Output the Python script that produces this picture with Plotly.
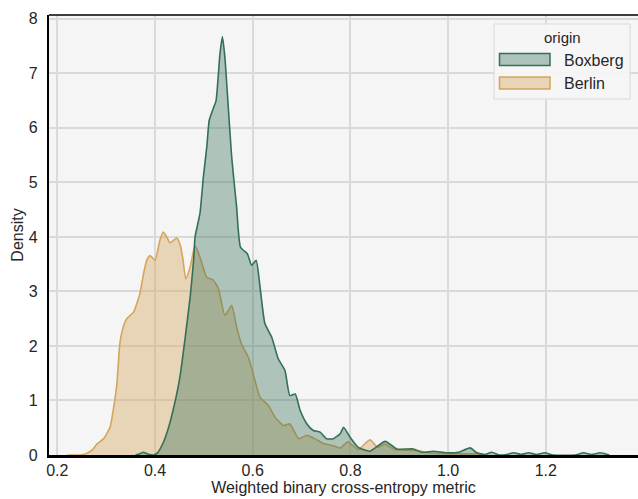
import plotly.graph_objects as go

# ---- data ----
berlin_x = [0.22, 0.246, 0.26, 0.272, 0.281, 0.295, 0.308, 0.315, 0.322, 0.328, 0.335, 0.342,
            0.356, 0.369, 0.376, 0.383, 0.39, 0.4, 0.41, 0.417, 0.424, 0.431, 0.444, 0.451,
            0.457, 0.463, 0.472, 0.482, 0.492, 0.506, 0.519, 0.53, 0.543, 0.557, 0.567,
            0.577, 0.591, 0.601, 0.615, 0.632, 0.646, 0.663, 0.676, 0.694, 0.711, 0.727,
            0.745, 0.765, 0.779, 0.795, 0.816, 0.84, 0.856, 0.87, 0.89, 0.911, 0.938,
            0.959, 0.98, 1.02, 1.06, 1.08]
berlin_y = [0.0, 0.0, 0.03, 0.1, 0.2, 0.3, 0.51, 0.85, 1.31, 2.04, 2.35, 2.5,
            2.62, 2.96, 3.3, 3.57, 3.66, 3.57, 3.94, 4.09, 4.0, 3.89, 3.98, 3.87,
            3.6, 3.23, 3.45, 3.84, 3.63, 3.26, 3.21, 3.05, 2.56, 2.74, 2.35,
            2.04, 1.79, 1.49, 1.06, 0.91, 0.69, 0.54, 0.57, 0.30, 0.36, 0.30,
            0.21, 0.17, 0.13, 0.24, 0.10, 0.28, 0.14, 0.20, 0.10, 0.09, 0.08,
            0.04, 0.03, 0.02, 0.02, 0.0]

boxberg_x = [0.36, 0.368, 0.376, 0.385, 0.397, 0.405, 0.417, 0.427, 0.437, 0.451, 0.461,
             0.472, 0.479, 0.482, 0.492, 0.499, 0.506, 0.511, 0.519, 0.525, 0.533, 0.538,
             0.543, 0.55, 0.557, 0.567, 0.575, 0.589, 0.598, 0.607, 0.615, 0.625, 0.639,
             0.652, 0.666, 0.676, 0.687, 0.697, 0.711, 0.724, 0.738, 0.751, 0.765, 0.779,
             0.786, 0.799, 0.816, 0.84, 0.871, 0.895, 0.929, 0.946, 0.97, 0.997, 1.021,
             1.045, 1.059, 1.075, 1.089, 1.105, 1.12, 1.134, 1.15, 1.165, 1.18, 1.198,
             1.215, 1.26, 1.277, 1.294, 1.311, 1.33]
boxberg_y = [0.0, 0.02, 0.05, 0.02, 0.0, 0.04, 0.23, 0.48, 0.82, 1.43, 2.1,
             2.9, 3.57, 4.0, 4.43, 5.1, 5.65, 6.14, 6.35, 6.5, 7.36, 7.67,
             7.3, 6.38, 5.46, 4.55, 3.81, 3.69, 3.48, 3.57, 3.08, 2.41, 2.16,
             1.77, 1.55, 1.09, 1.12, 0.82, 0.57, 0.45, 0.42, 0.30, 0.30, 0.39,
             0.51, 0.33, 0.14, 0.07, 0.25, 0.11, 0.11, 0.05, 0.07, 0.04, 0.05,
             0.13, 0.04, 0.01, 0.05, 0.0, 0.01, 0.04, 0.01, 0.04, 0.01, 0.04,
             0.0, 0.0, 0.04, 0.01, 0.04, 0.0]

series_names = ["Boxberg", "Berlin"]
x_ticks = [0.2, 0.4, 0.6, 0.8, 1.0, 1.2]
x_tick_labels = ["0.2", "0.4", "0.6", "0.8", "1.0", "1.2"]
y_ticks = [0, 1, 2, 3, 4, 5, 6, 7, 8]

# ---- styles ----
GREEN = "rgb(52,112,88)"
GREEN_FILL = "rgba(52,112,88,0.37)"
GOLD = "rgb(212,165,90)"
GOLD_FILL = "rgba(212,165,90,0.40)"
TXT = "#262626"
FONT = "Liberation Sans, Arial, sans-serif"
FS = 16

W, H = 638, 499
ML, MR, MT, MB = 49, 0, 15, 44

fig = go.Figure()
fig.add_trace(go.Scatter(x=berlin_x, y=berlin_y, mode="lines", fill="tozeroy",
                         line=dict(color=GOLD, width=1.6, shape="spline", smoothing=0.5),
                         fillcolor=GOLD_FILL, name=series_names[1], showlegend=False))
fig.add_trace(go.Scatter(x=boxberg_x, y=boxberg_y, mode="lines", fill="tozeroy",
                         line=dict(color=GREEN, width=1.6, shape="spline", smoothing=0.5),
                         fillcolor=GREEN_FILL, name=series_names[0], showlegend=False))

pw = W - ML - MR
ph = H - MT - MB


def px2x(p):
    return (p - ML) / pw


def px2y(p):
    return (H - MB - p) / ph


shapes = []
# top spine
shapes.append(dict(type="line", xref="paper", yref="paper", x0=0, x1=1, y0=1, y1=1,
                   line=dict(color="black", width=1.5)))
# legend box
lx0, lx1, ly0, ly1 = px2x(494), px2x(630), px2y(99), px2y(24)
shapes.append(dict(type="rect", xref="paper", yref="paper", x0=lx0, x1=lx1, y0=ly0, y1=ly1,
                   fillcolor="rgba(246,246,246,0.9)", line=dict(color="#d9d9d9", width=1)))
# swatches
shapes.append(dict(type="rect", xref="paper", yref="paper",
                   x0=px2x(499.5), x1=px2x(550), y0=px2y(65.5), y1=px2y(53.5),
                   fillcolor=GREEN_FILL, line=dict(color=GREEN, width=1.5)))
shapes.append(dict(type="rect", xref="paper", yref="paper",
                   x0=px2x(499.5), x1=px2x(550), y0=px2y(89), y1=px2y(77),
                   fillcolor=GOLD_FILL, line=dict(color=GOLD, width=1.5)))

annotations = [
    dict(text="origin", xref="paper", yref="paper", x=px2x(562), y=px2y(37), showarrow=False,
         xanchor="center", yanchor="middle", font=dict(size=15, color=TXT, family=FONT)),
    dict(text=series_names[0], xref="paper", yref="paper", x=px2x(562), y=px2y(60), showarrow=False,
         xanchor="left", yanchor="middle", font=dict(size=FS, color=TXT, family=FONT)),
    dict(text=series_names[1], xref="paper", yref="paper", x=px2x(562), y=px2y(83), showarrow=False,
         xanchor="left", yanchor="middle", font=dict(size=FS, color=TXT, family=FONT)),
]

fig.update_layout(
    width=W, height=H,
    margin=dict(l=ML, r=MR, t=MT, b=MB, pad=0, autoexpand=False),
    paper_bgcolor="white", plot_bgcolor="#f5f5f5",
    font=dict(family=FONT, size=FS, color=TXT),
    showlegend=False,
    shapes=shapes, annotations=annotations,
    xaxis=dict(range=[0.183, 1.3887], tickvals=x_ticks, ticktext=x_tick_labels,
               showgrid=True, gridcolor="#dadada", gridwidth=1.5, zeroline=False,
               showline=True, linecolor="black", linewidth=2.5,
               ticks="", ticklabelstandoff=-1, automargin=False,
               tickfont=dict(size=FS, color=TXT),
               title=dict(text="Weighted binary cross-entropy metric", standoff=2,
                          font=dict(size=FS, color=TXT))),
    yaxis=dict(range=[0, 8.07], tickvals=y_ticks,
               showgrid=True, gridcolor="#dadada", gridwidth=1.5, zeroline=False,
               showline=True, linecolor="black", linewidth=2.2,
               ticks="", ticklabelstandoff=6, automargin=False,
               tickfont=dict(size=FS, color=TXT),
               title=dict(text="Density", standoff=1, font=dict(size=FS, color=TXT))),
)

fig.write_html("out.html", config={"displayModeBar": False},
               post_script="document.body.style.margin='0';document.body.style.padding='0';")
